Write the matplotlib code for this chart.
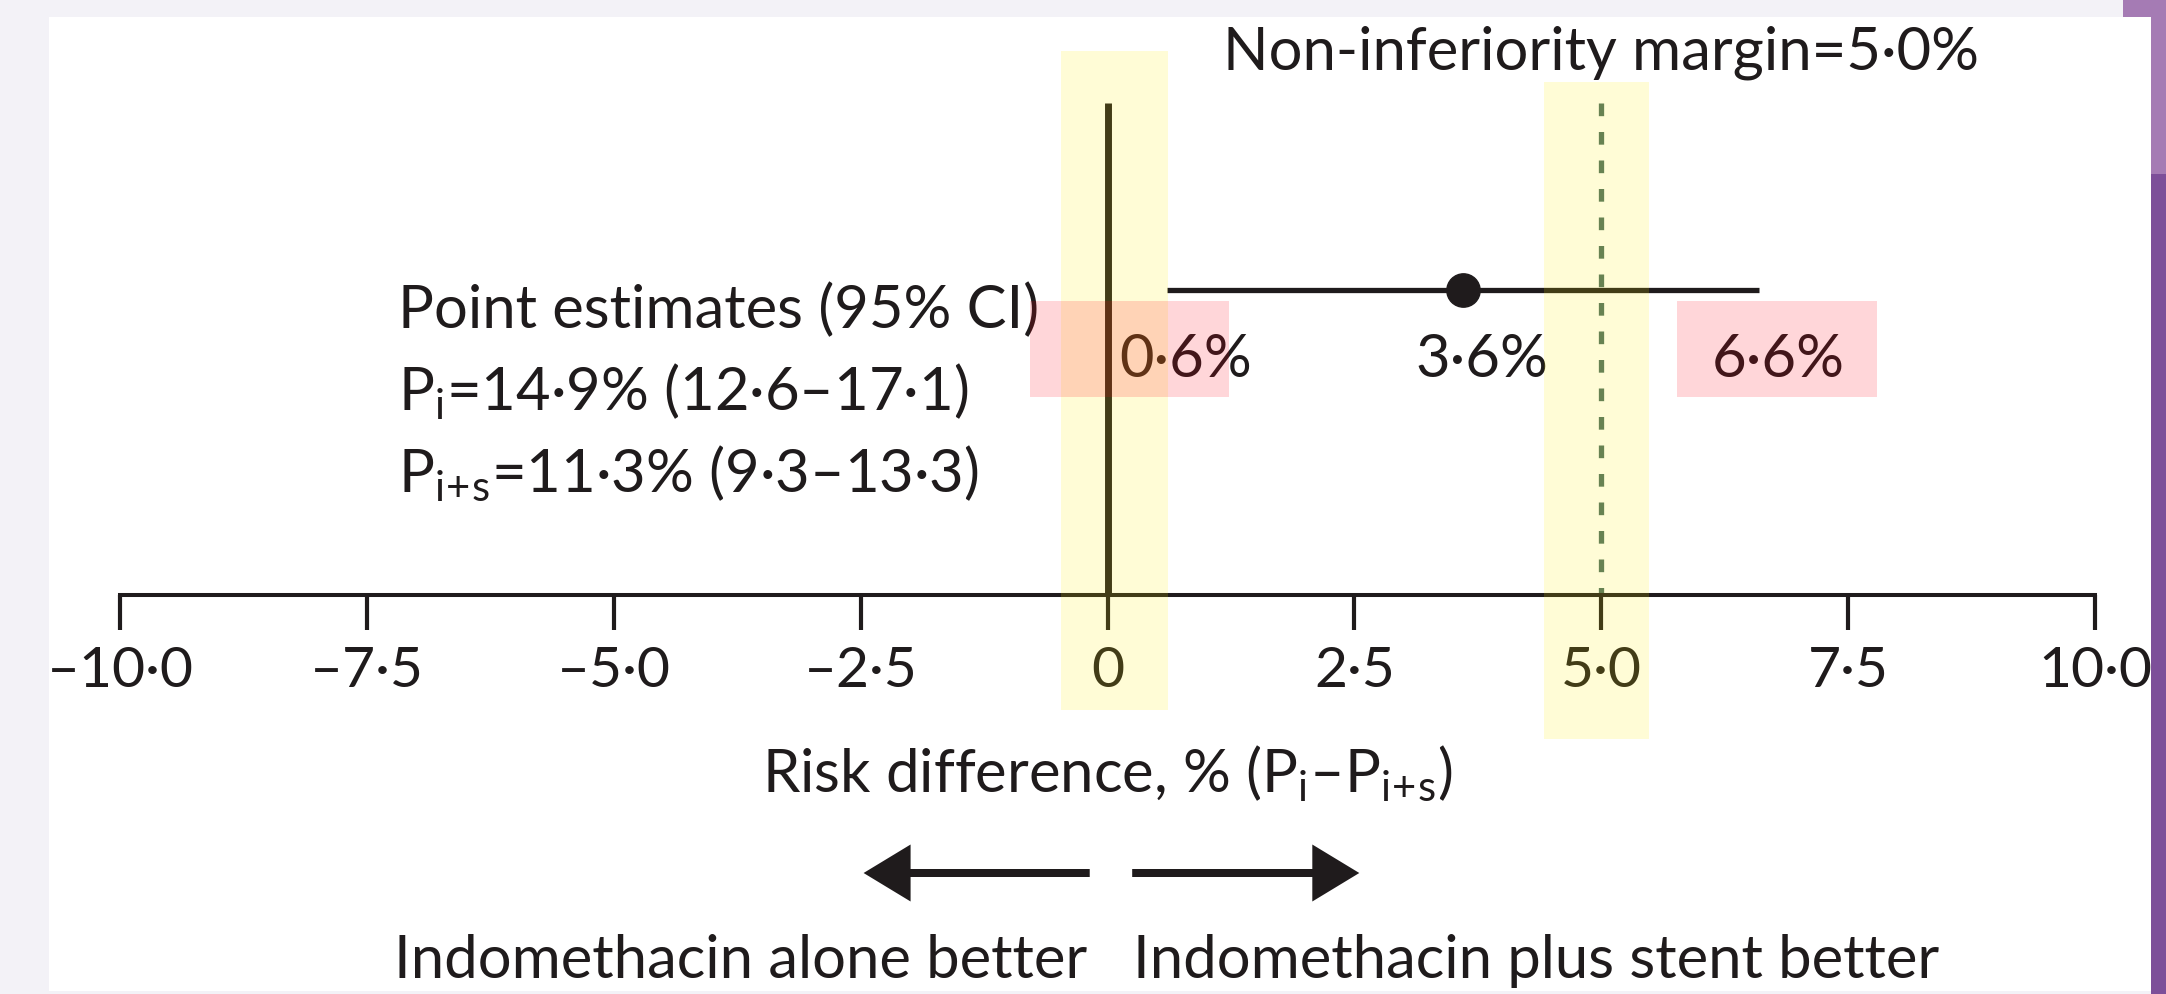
import matplotlib.pyplot as plt
from matplotlib.patches import Rectangle

plt.rcParams['font.family'] = ['Lato', 'DejaVu Sans']
plt.rcParams['mathtext.fontset'] = 'custom'
plt.rcParams['mathtext.rm'] = 'Lato'

# data
ticks = [-10, -7.5, -5, -2.5, 0, 2.5, 5, 7.5, 10]
tick_labels = ['–10·0', '–7·5', '–5·0', '–2·5', '0', '2·5', '5·0', '7·5', '10·0']
estimate = 3.6
ci = [0.6, 6.6]
value_labels = ['0·6%', '3·6%', '6·6%']
margin = 5.0
margin_label = 'Non-inferiority margin=5·0%'
summary_lines = ['Point estimates (95% CI)',
                 r'P$_\mathregular{i}$=14·9% (12·6–17·1)',
                 r'P$_\mathregular{i\!+\!s}$=11·3% (9·3–13·3)']
xlabel = r'Risk difference, % (P$_\mathregular{i}$–P$_\mathregular{i\!+\!s}$)'
left_side = 'Indomethacin alone better'
right_side = 'Indomethacin plus stent better'

# highlighter marks drawn over the figure (data x)
yellow_spans = [(-0.47, 0.61), (4.42, 5.48)]
pink_spans = [(-0.78, 1.23), (5.77, 7.79)]

INK = '#1f1b1c'
FS = 43
W, H = 2166, 995
X0_PX, X1_PX = 120, 2095  # pixel position of -10 and 10
Y_AXIS = 596
Y_CI = 291

fig = plt.figure(figsize=(W / 100, H / 100), dpi=100)
fig.patch.set_facecolor('#f3f2f7')

# layout layer in pixel coordinates
lay = fig.add_axes([0, 0, 1, 1], zorder=0)
lay.set_xlim(0, W)
lay.set_ylim(H, 0)
lay.axis('off')
lay.add_patch(Rectangle((49, 18), 2151 - 49, 992 - 18, color='white', lw=0))
lay.add_patch(Rectangle((2151, 0), W - 2151, 175, color='#a57bb4', lw=0))
lay.add_patch(Rectangle((2151, 175), W - 2151, H - 175, color='#7d4f99', lw=0))
lay.add_patch(Rectangle((2123, 0), 28, 18, color='#a57bb4', lw=0))

for txt, yb in zip(summary_lines, [328, 410, 492]):
    lay.text(398, yb, txt, ha='left', va='baseline', fontsize=FS, color=INK)
lay.text(1087, 978, left_side, ha='right', va='baseline', fontsize=FS, color=INK)
lay.text(1133, 978, right_side, ha='left', va='baseline', fontsize=FS, color=INK)

# data layer: x in risk difference units, y in pixels
ax = fig.add_axes([X0_PX / W, 0, (X1_PX - X0_PX) / W, 1], zorder=1)
ax.patch.set_visible(False)
ax.set_xlim(-10, 10)
ax.set_ylim(H, 0)
for s in ['top', 'left', 'right']:
    ax.spines[s].set_visible(False)
ax.spines['bottom'].set_position(('data', Y_AXIS))
ax.spines['bottom'].set_linewidth(2.9)
ax.spines['bottom'].set_color(INK)
ax.spines['bottom'].set_capstyle('projecting')
ax.set_yticks([])
ax.set_xticks(ticks, tick_labels)
ax.tick_params(axis='x', direction='out', length=25, width=3, pad=11,
               labelsize=41, colors=INK)

ax.plot([0, 0], [104, Y_AXIS], color=INK, lw=5, solid_capstyle='butt')
ax.plot([margin, margin], [104, Y_AXIS], color='#4a6e62', lw=3.8,
        linestyle=(0, (2.4, 3.0)))
ax.plot(ci, [Y_CI, Y_CI], color=INK, lw=3.8, solid_capstyle='butt')
ax.plot(estimate, Y_CI, 'o', ms=24, color=INK)

for v, lab in zip([ci[0], estimate, ci[1]], value_labels):
    ax.text(v + 0.19, 377, lab, ha='center', va='baseline', fontsize=FS, color=INK)

ax.text(margin, 69, margin_label, ha='center', va='baseline', fontsize=FS, color=INK)
ax.text(0, 792, xlabel, ha='center', va='baseline', fontsize=FS, color=INK)

# direction arrows
for tail, tip in [(-0.18, -2.47), (0.25, 2.55)]:
    ax.arrow(tail, 874, tip - tail, 0, width=8, head_width=57,
             head_length=47 / 98.75, length_includes_head=True,
             color=INK, lw=0)

# highlighter overlays
for x0, x1 in yellow_spans:
    y0, y1 = (52, 711) if x0 < margin - 2 else (83, 740)
    ax.add_patch(Rectangle((x0, y0), x1 - x0, y1 - y0, color='#ffee00',
                           alpha=0.16, lw=0, zorder=10))
for x0, x1 in pink_spans:
    ax.add_patch(Rectangle((x0, 302), x1 - x0, 96, color='#ff0014',
                           alpha=0.16, lw=0, zorder=10))

fig.savefig('out.png', dpi=100, facecolor=fig.get_facecolor())
